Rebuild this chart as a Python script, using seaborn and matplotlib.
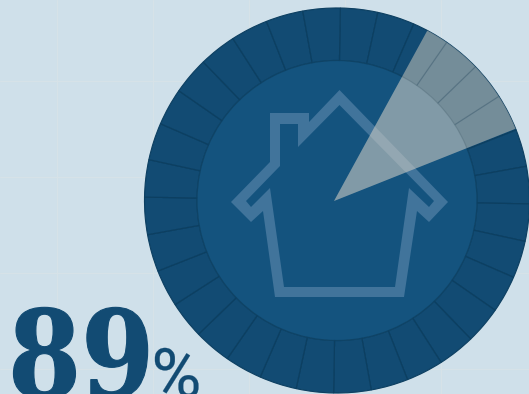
import matplotlib
matplotlib.use("Agg")
import matplotlib.pyplot as plt
import seaborn as sns
from matplotlib.patches import Circle, PathPatch
from matplotlib.path import Path
from matplotlib.patheffects import AbstractPathEffect
from matplotlib.transforms import Affine2D

# Share of homes shown by the highlighted wedge
share_values = [11, 89]
share_label = "89"
unit_label = "%"
ring_segments = [1] * 32

W, H = 529, 394
BG = "#CFE0EA"
RING = "#124B73"
DISC = "#14537E"
SPOKE = "#0B3A5C"
INK = "#124B73"

# House outline, outer and inner contours, in pixel coordinates
house_outer = [(339.5, 90), (448, 202), (429, 222), (417, 211), (404, 297), (275, 297),
               (263, 211), (251, 222), (231, 202), (270, 162), (270, 113), (309, 113), (309, 122)]
house_inner = [(339.5, 105), (298, 147), (298, 124), (280, 124), (280, 166), (246, 201),
               (251, 207), (270, 188), (284, 287), (395, 287), (409, 188), (429, 207), (434, 201)]


def up(points):
    return [(x, H - y) for x, y in points]


def ring_path(outer, inner):
    verts, codes = [], []
    for contour in (up(outer), up(inner)):
        verts += contour + [contour[0]]
        codes += [Path.MOVETO] + [Path.LINETO] * (len(contour) - 1) + [Path.CLOSEPOLY]
    return Path(verts, codes)


class WideBold(AbstractPathEffect):
    """Rescales glyph width about a pixel anchor and thickens them with a stroke."""

    def __init__(self, x0, xscale, stroke):
        super().__init__()
        self.x0, self.xscale, self.stroke = x0, xscale, stroke

    def draw_path(self, renderer, gc, tpath, affine, rgbFace=None):
        widen = Affine2D().translate(-self.x0, 0).scale(self.xscale, 1).translate(self.x0, 0)
        gc0 = renderer.new_gc()
        gc0.copy_properties(gc)
        gc0.set_foreground(rgbFace)
        gc0.set_linewidth(self.stroke)
        renderer.draw_path(gc0, tpath, affine + widen, rgbFace)
        gc0.restore()


sns.set_theme(style="white", rc={"figure.facecolor": BG, "axes.facecolor": BG})
fig = plt.figure(figsize=(W / 100, H / 100), dpi=100)
ax = fig.add_axes([0, 0, 1, 1])

cx, cy, r_out, r_in = 337, H - 200.5, 192.5, 140
tip = (334, H - 201)

# Faint background grid
for gx in [57, 153, 249, 345, 441]:
    ax.axvline(gx, color="#D6E2E8", lw=0.8, zorder=0)
for gy in [81, 177, 273, 369]:
    ax.axhline(H - gy, color="#D6E2E8", lw=0.8, zorder=0)

# Outer ring with its spokes, then the inner disc
ax.pie(ring_segments, center=(cx, cy), radius=r_out, startangle=89, counterclock=False,
       colors=[RING], frame=True,
       wedgeprops=dict(width=r_out - r_in, linewidth=0.8, edgecolor="#0E4163"))
ax.add_patch(Circle((cx, cy), r_in, facecolor=DISC, edgecolor="#0F4568", linewidth=0.8))

# House icon
ax.add_patch(PathPatch(ring_path(house_outer, house_inner), facecolor="#41749B", edgecolor="none"))

# Highlighted share, trimmed to the outer circle
clip = Circle((cx, cy), r_out, transform=ax.transData)
wedges, _ = ax.pie(share_values, center=tip, radius=400, startangle=21.7,
                   colors=["#C6C4BA", "none"], frame=True,
                   wedgeprops=dict(alpha=0.55, linewidth=0))
wedges[0].set_clip_on(True)
wedges[0].set_clip_path(clip)
wedges[1].set_visible(False)

# Extra lift where the share crosses the disc
clip_disc = Circle((cx, cy), r_in, transform=ax.transData)
lift, _ = ax.pie(share_values, center=tip, radius=400, startangle=21.7,
                 colors=["#D8E0E4", "none"], frame=True,
                 wedgeprops=dict(alpha=0.13, linewidth=0))
lift[0].set_clip_on(True)
lift[0].set_clip_path(clip_disc)
lift[1].set_visible(False)

# Light overlay so the spokes still read through the share
spokes, _ = ax.pie(ring_segments, center=(cx, cy), radius=r_out, startangle=89, counterclock=False,
                   colors=["none"], frame=True,
                   wedgeprops=dict(width=r_out - r_in, edgecolor=SPOKE, linewidth=0.8, alpha=0.14))

# Big figure and unit sign
x_px = 8
ax.text(x_px, H - 397, share_label, family="DejaVu Serif", weight="bold", fontsize=87,
        color=INK, va="baseline", ha="left", zorder=6,
        path_effects=[WideBold(x_px, 0.87, 0.8)])
ax.text(151.5, H - 397, unit_label, family="Roboto", fontsize=49,
        color=INK, va="baseline", ha="left", zorder=6,
        path_effects=[WideBold(151.5, 1.0, 0.2)])

ax.set_xlim(0, W)
ax.set_ylim(0, H)
ax.set_xticks([])
ax.set_yticks([])
ax.set_frame_on(False)
fig.savefig("out.png", dpi=100, facecolor=BG)
